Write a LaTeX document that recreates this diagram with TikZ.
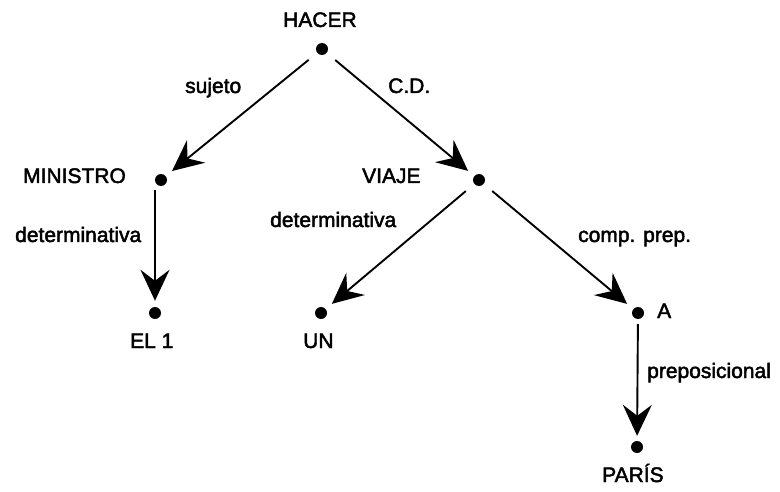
\documentclass[tikz,border=0pt]{standalone}
\usepackage{fontspec}
\setmainfont{Liberation Sans}
\newfontfamily\heavyface[FakeBold=2.2]{Liberation Sans}
\usetikzlibrary{arrows.meta}
\begin{document}
\begin{tikzpicture}[x=1pt,y=-1pt,
  dot/.style={circle,fill=black,inner sep=0pt,minimum size=12pt},
  lbl/.style={anchor=base west,inner sep=0pt,font=\heavyface\fontsize{21}{25}\selectfont},
  arr/.style={line width=1.9pt,-{Stealth[length=31pt,width=29pt,inset=11pt]}},
  diag/.style={arr,shorten <=11pt,shorten >=8pt},
  vert/.style={arr,shorten <=5pt,shorten >=5pt}]
  \useasboundingbox (0,0) rectangle (780,492);

  % word nodes
  \node[dot] (hacer)    at (322,49)  {};
  \node[dot] (ministro) at (161,180) {};
  \node[dot] (viaje)    at (479,180) {};
  \node[dot] (el)       at (155,313) {};
  \node[dot] (un)       at (321,313) {};
  \node[dot] (a)        at (638,313) {};
  \node[dot] (paris)    at (637,447) {};

  % word labels
  \node[lbl] (thacer)    at (283,27)  {HACER};
  \node[lbl] (tministro) at (23,183)  {MINISTRO};
  \node[lbl] (tviaje)    at (362,183) {VIAJE};
  \node[lbl] (tel)       at (130,348) {EL 1};
  \node[lbl] (tun)       at (303,348) {UN};
  \node[lbl] (ta)        at (657,318) {A};
  \node[lbl] (tparis)    at (602,482) {PARÍS};

  % dependency relations
  \draw[diag] (hacer) -- (ministro);
  \draw[diag] (hacer) -- (viaje);
  \draw[arr,shorten <=10pt,shorten >=6pt] (el |- ministro) -- (el);
  \draw[diag] (viaje) -- (un);
  \draw[diag] (viaje) -- (a);
  \draw[vert] (a) -- (paris);

  % relation labels
  \node[lbl] (rsuj)  at (185,93)  {sujeto};
  \node[lbl] (rcd)   at (388,93)  {C.D.};
  \node[lbl] (rdet1) at (15,242)  {determinativa};
  \node[lbl] (rdet2) at (270,227) {determinativa};
  \node[lbl] (rcomp) at (578,242) {comp. prep.};
  \node[lbl] (rprep) at (647,378) {preposicional};
\end{tikzpicture}
\end{document}
